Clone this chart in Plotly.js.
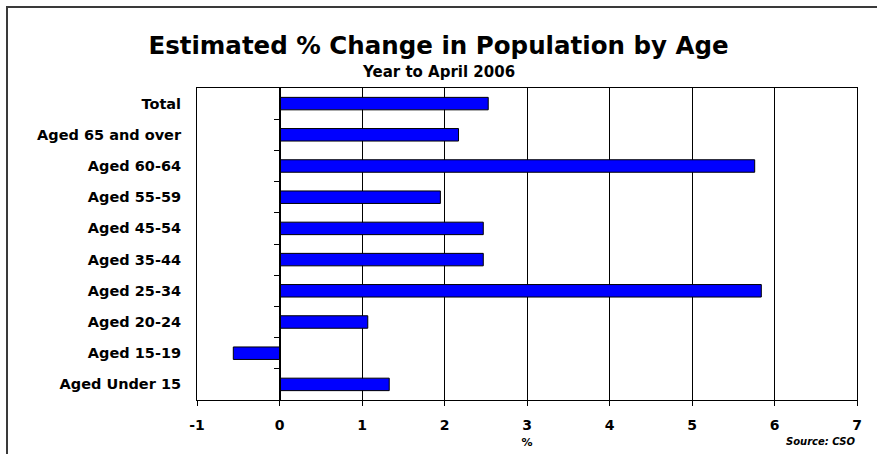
<!DOCTYPE html>
<html>
<head>
<meta charset="utf-8">
<script src="https://cdn.plot.ly/plotly-3.0.1.min.js"></script>
<style>
  html, body { margin: 0; padding: 0; background: #fff; }
  #wrap { position: relative; width: 877px; height: 454px; }
  #chart { width: 877px; height: 454px; }
  #frame { position: absolute; left: 6px; top: 6px; width: 877px; height: 460px;
           border-top: 2px solid #3a3a3a; border-left: 2px solid #3a3a3a; pointer-events: none; }
</style>
</head>
<body>
<div id="wrap">
  <div id="chart"></div>
  <div id="frame"></div>
</div>
<script>
// Data
const categories = ['Total', 'Aged 65 and over', 'Aged 60-64', 'Aged 55-59', 'Aged 45-54',
                    'Aged 35-44', 'Aged 25-34', 'Aged 20-24', 'Aged 15-19', 'Aged Under 15'];
const changePct = [2.53, 2.17, 5.76, 1.95, 2.47, 2.47, 5.84, 1.07, -0.56, 1.33];
const xTickVals = [-1, 0, 1, 2, 3, 4, 5, 6, 7];
const xTickText = ['-1', '0', '1', '2', '3', '4', '5', '6', '7'];

const FONT = 'DejaVu Sans, Liberation Sans, Arial, sans-serif';
const n = categories.length;
const xMin = -1, xMax = 7;

// tick marks between categories on the zero line
const boundaryVals = [];
for (let i = 0; i < n - 1; i++) boundaryVals.push(i + 0.5);

const trace = {
  type: 'bar',
  orientation: 'h',
  y: categories,
  x: changePct,
  width: 0.4,
  marker: { color: '#0000FF', line: { color: '#000000', width: 1 } },
  hoverinfo: 'skip',
  showlegend: false
};

// invisible helper trace so the overlay axis exists
const helper = {
  type: 'scatter', mode: 'markers',
  x: [0], y: [0], yaxis: 'y2',
  marker: { opacity: 0 }, hoverinfo: 'skip', showlegend: false
};

const L = 197, R = 20, T = 88, B = 54, W = 877, H = 454;
const plotW = W - L - R, plotH = H - T - B;

const layout = {
  width: W, height: H,
  margin: { l: L, r: R, t: T, b: B },
  paper_bgcolor: '#ffffff', plot_bgcolor: '#ffffff',
  font: { family: FONT, color: '#000000' },
  title: {
    text: 'Estimated % Change in Population by Age',
    font: { family: FONT, size: 24.5, weight: 'bold', color: '#000' },
    xref: 'container', x: 0.5, xanchor: 'center',
    yref: 'container', y: 1 - 45 / H, yanchor: 'middle'
  },
  xaxis: {
    range: [xMin, xMax],
    tickvals: xTickVals, ticktext: xTickText,
    ticks: 'outside', ticklen: 5, tickcolor: '#000', tickwidth: 1,
    ticklabelstandoff: 7,
    tickfont: { family: FONT, size: 14, weight: 'bold', color: '#000' },
    showgrid: true, gridcolor: '#000', gridwidth: 1,
    zeroline: true, zerolinecolor: '#000', zerolinewidth: 1,
    showline: true, linecolor: '#000', linewidth: 1, mirror: true,
    title: { text: '%', font: { family: FONT, size: 11, weight: 'bold', color: '#000' }, standoff: 6 },
    fixedrange: true
  },
  yaxis: {
    type: 'category',
    categoryorder: 'array', categoryarray: categories,
    range: [n - 0.5, -0.5],
    ticks: '', showgrid: false, zeroline: false,
    ticklabelstandoff: 12,
    tickfont: { family: FONT, size: 14.5, weight: 'bold', color: '#000' },
    showline: true, linecolor: '#000', linewidth: 1, mirror: true,
    fixedrange: true
  },
  yaxis2: {
    overlaying: 'y', anchor: 'free', side: 'left',
    position: (0 - xMin) / (xMax - xMin),
    range: [n - 0.5, -0.5],
    tickvals: boundaryVals, showticklabels: false,
    ticks: 'outside', ticklen: 6, tickcolor: '#000', tickwidth: 1,
    showgrid: false, zeroline: false,
    showline: true, linecolor: '#000', linewidth: 1,
    fixedrange: true
  },
  annotations: [
    {
      text: 'Year to April 2006',
      xref: 'paper', x: (W / 2 - L) / plotW, xanchor: 'center',
      yref: 'paper', y: 1 + (T - 72) / plotH, yanchor: 'middle',
      showarrow: false,
      font: { family: FONT, size: 15, weight: 'bold', color: '#000' }
    },
    {
      text: 'Source: CSO',
      xref: 'paper', x: 1, xanchor: 'right',
      yref: 'paper', y: -(441 - (H - B)) / plotH, yanchor: 'middle',
      showarrow: false,
      font: { family: FONT, size: 10, weight: 'bold', style: 'italic', color: '#000' }
    }
  ],
  bargap: 0.6
};

Plotly.newPlot('chart', [trace, helper], layout, { displayModeBar: false, staticPlot: true });
</script>
</body>
</html>
